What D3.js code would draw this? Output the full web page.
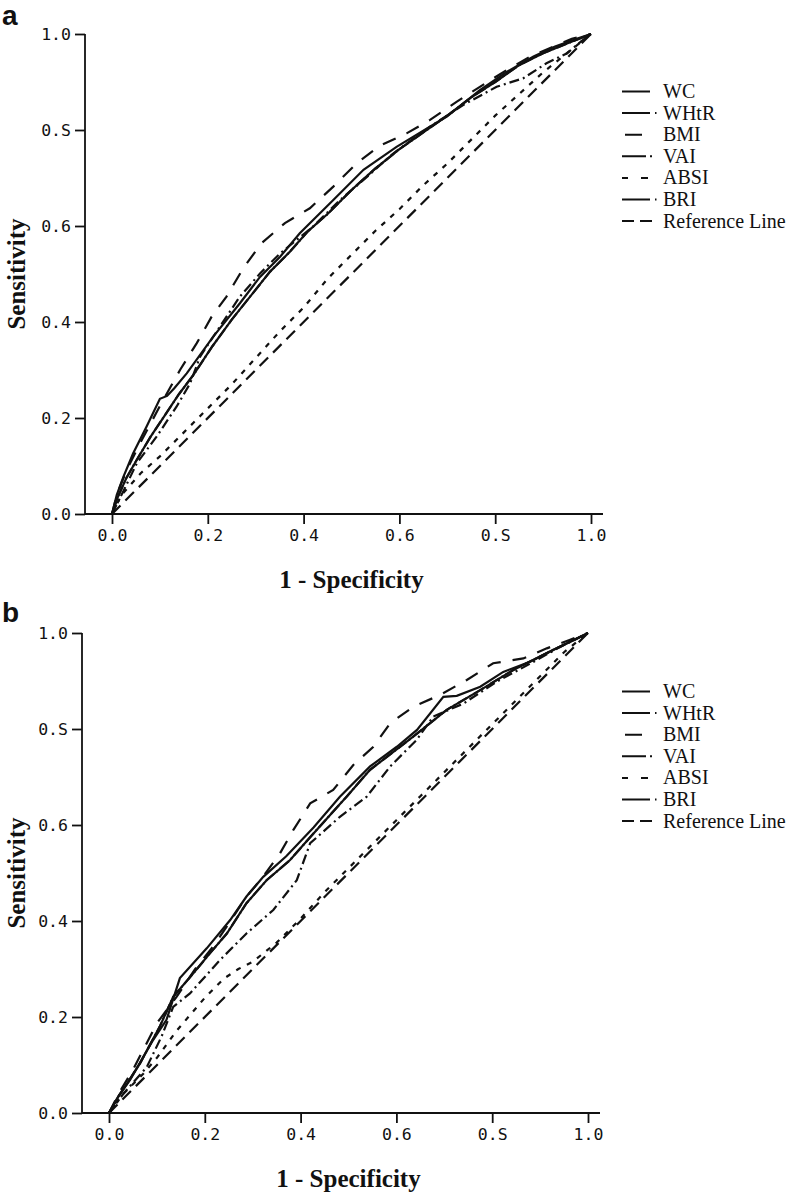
<!DOCTYPE html>
<html><head><meta charset="utf-8">
<script src="https://cdn.jsdelivr.net/npm/d3@7"></script>
<style>body{margin:0;background:#fff}</style>
</head><body><svg id="c" width="787" height="1195"></svg>
<script>
// ---------- data ----------
const tickValues = [0, 0.2, 0.4, 0.6, 0.8, 1.0];
const tickLabels = ["0.0", "0.2", "0.4", "0.6", "0.S", "1.0"];
const seriesNames = ["WC", "WHtR", "BMI", "VAI", "ABSI", "BRI", "Reference Line"];
const panelLabels = ["a", "b"];
const xTitle = "1 - Specificity";
const yTitle = "Sensitivity";

// panel a : [1 - specificity, sensitivity]
const aWC = [[0,0],[0.01,0.04],[0.024,0.078],[0.044,0.126],[0.072,0.182],[0.1,0.24],[0.115,0.246],[0.13,0.262],[0.156,0.293],[0.211,0.369],[0.267,0.439],[0.309,0.494],[0.351,0.536],[0.392,0.585],[0.462,0.654],[0.525,0.717],[0.594,0.765],[0.699,0.828],[0.768,0.883],[0.824,0.921],[0.88,0.953],[0.925,0.974],[0.97,0.99],[1,1]];
const aWHtR = [[0,0],[0.012,0.035],[0.03,0.075],[0.05,0.11],[0.08,0.16],[0.11,0.205],[0.14,0.25],[0.17,0.29],[0.21,0.35],[0.25,0.405],[0.29,0.455],[0.33,0.505],[0.37,0.545],[0.41,0.59],[0.45,0.625],[0.5,0.675],[0.55,0.72],[0.6,0.76],[0.65,0.795],[0.7,0.83],[0.75,0.868],[0.8,0.9],[0.85,0.935],[0.9,0.96],[0.95,0.98],[1,1]];
const aBMI = [[0,0],[0.01,0.04],[0.03,0.09],[0.06,0.15],[0.1,0.225],[0.142,0.3],[0.177,0.356],[0.208,0.411],[0.239,0.453],[0.274,0.512],[0.312,0.564],[0.361,0.606],[0.413,0.637],[0.462,0.682],[0.511,0.731],[0.559,0.767],[0.615,0.793],[0.664,0.821],[0.72,0.859],[0.768,0.89],[0.824,0.925],[0.873,0.953],[0.922,0.974],[0.96,0.99],[1,1]];
const aVAI = [[0,0],[0.02,0.04],[0.052,0.106],[0.093,0.161],[0.135,0.224],[0.163,0.272],[0.184,0.328],[0.225,0.39],[0.267,0.453],[0.309,0.501],[0.351,0.543],[0.42,0.599],[0.476,0.654],[0.525,0.696],[0.587,0.751],[0.664,0.807],[0.733,0.852],[0.803,0.89],[0.859,0.908],[0.907,0.939],[0.95,0.96],[0.98,0.985],[1,1]];
const aABSI = [[0,0],[0.02,0.04],[0.06,0.085],[0.1,0.12],[0.15,0.17],[0.2,0.22],[0.25,0.27],[0.3,0.325],[0.35,0.38],[0.4,0.43],[0.45,0.49],[0.5,0.54],[0.55,0.59],[0.6,0.635],[0.65,0.685],[0.7,0.73],[0.75,0.78],[0.8,0.83],[0.85,0.875],[0.9,0.92],[0.95,0.96],[1,1]];
const aBRI = [[0,0],[0.012,0.035],[0.03,0.075],[0.05,0.11],[0.08,0.16],[0.11,0.205],[0.14,0.25],[0.17,0.29],[0.21,0.35],[0.25,0.405],[0.29,0.455],[0.33,0.505],[0.37,0.545],[0.41,0.59],[0.45,0.625],[0.5,0.675],[0.55,0.72],[0.6,0.76],[0.65,0.795],[0.7,0.83],[0.75,0.868],[0.8,0.9],[0.85,0.935],[0.9,0.96],[0.95,0.98],[1,1]];
const aRef = [[0,0],[1,1]];

// panel b
const bWC = [[0,0],[0.02,0.035],[0.044,0.069],[0.092,0.152],[0.12,0.194],[0.148,0.281],[0.204,0.343],[0.253,0.402],[0.287,0.451],[0.322,0.492],[0.37,0.535],[0.427,0.595],[0.482,0.659],[0.545,0.722],[0.601,0.763],[0.643,0.798],[0.698,0.867],[0.726,0.869],[0.775,0.888],[0.823,0.919],[0.879,0.94],[0.928,0.965],[0.97,0.985],[1,1]];
const bWHtR = [[0,0],[0.02,0.035],[0.04,0.065],[0.065,0.104],[0.106,0.18],[0.134,0.242],[0.176,0.291],[0.211,0.333],[0.246,0.374],[0.287,0.437],[0.329,0.485],[0.378,0.527],[0.44,0.597],[0.496,0.659],[0.545,0.715],[0.635,0.784],[0.705,0.84],[0.775,0.881],[0.844,0.923],[0.928,0.965],[1,1]];
const bBMI = [[0,0],[0.02,0.04],[0.05,0.09],[0.1,0.187],[0.141,0.242],[0.18,0.3],[0.22,0.35],[0.26,0.41],[0.287,0.451],[0.32,0.49],[0.357,0.541],[0.385,0.59],[0.42,0.645],[0.468,0.673],[0.51,0.725],[0.552,0.763],[0.587,0.812],[0.635,0.846],[0.691,0.871],[0.747,0.902],[0.802,0.937],[0.865,0.947],[0.914,0.968],[0.96,0.985],[1,1]];
const bVAI = [[0,0],[0.03,0.04],[0.079,0.096],[0.11,0.16],[0.134,0.221],[0.169,0.249],[0.232,0.319],[0.287,0.374],[0.343,0.423],[0.392,0.485],[0.42,0.562],[0.482,0.617],[0.538,0.659],[0.587,0.722],[0.642,0.777],[0.677,0.826],[0.74,0.853],[0.81,0.899],[0.879,0.936],[0.94,0.97],[1,1]];
const bABSI = [[0,0],[0.03,0.04],[0.07,0.08],[0.1,0.115],[0.14,0.17],[0.2,0.24],[0.24,0.28],[0.27,0.3],[0.3,0.315],[0.35,0.355],[0.4,0.405],[0.45,0.46],[0.5,0.51],[0.55,0.56],[0.6,0.61],[0.65,0.66],[0.7,0.71],[0.75,0.76],[0.8,0.81],[0.85,0.86],[0.9,0.91],[0.95,0.96],[1,1]];
const bBRI = [[0,0],[0.02,0.035],[0.04,0.065],[0.065,0.104],[0.106,0.18],[0.134,0.242],[0.176,0.291],[0.211,0.333],[0.246,0.374],[0.287,0.437],[0.329,0.485],[0.378,0.527],[0.44,0.597],[0.496,0.659],[0.545,0.715],[0.635,0.784],[0.705,0.84],[0.775,0.881],[0.844,0.923],[0.928,0.965],[1,1]];
const bRef = [[0,0],[1,1]];

const panelData = [
  [aWC, aWHtR, aBMI, aVAI, aABSI, aBRI, aRef],
  [bWC, bWHtR, bBMI, bVAI, bABSI, bBRI, bRef]
];

// ---------- styles / layout ----------
const curveDash = ["none", "30,3,1.5,3", "14,12", "10,4,2,4", "5,7", "30,3,1.5,3", "12,7"];
const curveOffset = [0, 0, 0, 0, 0, 18, 0];
const legendDash = ["28,100", "28,5,1.5,100", "0,3,17,100", "24,4,2,100", "6,13,7,100", "28,5,1.5,100", "12,6,12,100"];
const layout = [
  {x0:112, x1:591, y0:514, y1:34, ax:85, legY:91.5, lab:25},
  {x0:109, x1:588, y0:1113, y1:633, ax:82, legY:691.5, lab:622}
];

const svg = d3.select("#c");
svg.append("rect").attr("width",787).attr("height",1195).attr("fill","#fff");

layout.forEach((L, pi) => {
  const g = svg.append("g");
  const x = d3.scaleLinear().domain([0,1]).range([L.x0, L.x1]);
  const y = d3.scaleLinear().domain([0,1]).range([L.y0, L.y1]);

  // axes lines
  g.append("line").attr("x1",L.ax).attr("x2",L.ax).attr("y1",L.y1).attr("y2",L.y0)
    .attr("stroke","#111").attr("stroke-width",1.8);
  g.append("line").attr("x1",L.ax).attr("x2",L.x1+12).attr("y1",L.y0).attr("y2",L.y0)
    .attr("stroke","#111").attr("stroke-width",1.8);

  const yAxis = d3.axisLeft(y).tickValues(tickValues).tickSize(10).tickSizeOuter(0).tickPadding(4)
    .tickFormat((d,i) => tickLabels[i]);
  const ya = g.append("g").attr("transform",`translate(${L.ax},0)`).call(yAxis);
  ya.select(".domain").remove();
  ya.selectAll("line").attr("stroke","#111").attr("stroke-width",1.8);
  ya.selectAll("text").attr("font-family","DejaVu Sans Mono").attr("font-size",16.5).attr("fill","#111");

  const xAxis = d3.axisBottom(x).tickValues(tickValues).tickSize(10).tickSizeOuter(0).tickPadding(5)
    .tickFormat((d,i) => tickLabels[i]);
  const xa = g.append("g").attr("transform",`translate(0,${L.y0})`).call(xAxis);
  xa.select(".domain").remove();
  xa.selectAll("line").attr("stroke","#111").attr("stroke-width",1.8);
  xa.selectAll("text").attr("font-family","DejaVu Sans Mono").attr("font-size",16.5).attr("fill","#111");

  // titles
  g.append("text").attr("transform",`translate(25,${(L.y0+L.y1)/2}) rotate(-90)`)
    .attr("text-anchor","middle").attr("font-family","Liberation Serif").attr("font-weight","bold")
    .attr("font-size",25).attr("fill","#111").text(yTitle);
  g.append("text").attr("x",(L.x0+L.x1)/2).attr("y",L.y0+74)
    .attr("text-anchor","middle").attr("font-family","Liberation Serif").attr("font-weight","bold")
    .attr("font-size",25).attr("fill","#111").text(xTitle);
  g.append("text").attr("x",2).attr("y",L.lab)
    .attr("font-family","Liberation Sans").attr("font-weight","bold")
    .attr("font-size",28).attr("fill","#111").text(panelLabels[pi]);

  // curves
  const line = d3.line().x(d => x(d[0])).y(d => y(d[1]));
  const order = [6,4,3,2,5,1,0];
  order.forEach(si => {
    g.append("path").datum(panelData[pi][si]).attr("d", line)
      .attr("fill","none").attr("stroke","#111").attr("stroke-width",2.2)
      .attr("stroke-dasharray", curveDash[si]).attr("stroke-dashoffset", curveOffset[si]);
  });

  // legend
  seriesNames.forEach((name, i) => {
    const ly = L.legY + i*21.6;
    g.append("line").attr("x1",622).attr("x2",660).attr("y1",ly).attr("y2",ly)
      .attr("stroke","#111").attr("stroke-width",2).attr("stroke-dasharray",legendDash[i]);
    g.append("text").attr("x",663).attr("y",ly+6.5).attr("font-family","Liberation Serif")
      .attr("font-size",20).attr("fill","#111").text(name);
  });
});
</script></body></html>
